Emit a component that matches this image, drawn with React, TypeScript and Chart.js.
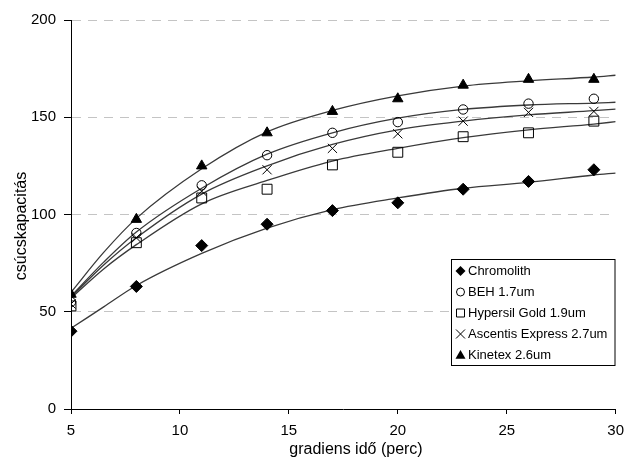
import React, { useEffect, useRef } from 'react';
import { Chart, registerables } from 'chart.js';

Chart.register(...registerables);

// ---- data ----
const xValues = [5, 8, 11, 14, 17, 20, 23, 26, 29];
const chromolith = [40, 63, 84, 95, 102, 106, 113, 117, 123];
const beh = [55, 90.5, 115, 130.5, 142, 147.5, 154, 157, 159.5];
const hypersil = [53, 85.5, 108.5, 113, 125.5, 132, 140, 142, 148];
const ascentis = [54, 88, 112, 123, 134, 141.5, 148, 152.5, 153];
const kinetex = [59, 97.5, 125, 142, 153, 159.5, 166.5, 169.5, 169.5];

// trend curves
const trendX = [5, 6.5, 8, 11, 14, 17, 20, 23, 26, 29, 30];
const chromolithTrend = [41.5, 52.5, 63.5, 80, 93, 102.5, 108.5, 113.5, 116.5, 120.3, 121.3];
const behTrend = [58, 75.5, 91, 113.5, 131, 142, 149.5, 154, 156.3, 157.3, 157.7];
const hypersilTrend = [57, 72, 84.5, 105.5, 117.5, 127.5, 134, 139.5, 143.5, 146.5, 147.7];
const ascentisTrend = [57.5, 74, 88, 110.5, 125, 136, 143.5, 148, 151.2, 153.4, 154.2];
const kinetexTrend = [60, 80.5, 98, 123.5, 142.5, 153.5, 161, 166, 168.7, 170.7, 171.6];

const seriesNames = ['Chromolith', 'BEH 1.7um', 'Hypersil Gold 1.9um', 'Ascentis Express 2.7um', 'Kinetex 2.6um'];
const xTitle = 'gradiens idő (perc)';
const yTitle = 'csúcskapacitás';
const xMin = 5, xMax = 30, xStep = 5;
const yMin = 0, yMax = 200, yStep = 50;

const FONT = "'Liberation Sans', Arial, sans-serif";

type Marker = 'diamond' | 'circle' | 'square' | 'cross' | 'triangle';
const markerKinds: Marker[] = ['diamond', 'circle', 'square', 'cross', 'triangle'];

function pts(xs: number[], ys: number[]) {
  return xs.map((x, i) => ({ x, y: ys[i] }));
}

function drawMarker(ctx: CanvasRenderingContext2D, kind: Marker, x: number, y: number) {
  ctx.save();
  ctx.strokeStyle = '#000';
  ctx.fillStyle = '#000';
  ctx.lineWidth = 1;
  ctx.beginPath();
  if (kind === 'diamond') {
    const r = 5;
    ctx.moveTo(x, y - r); ctx.lineTo(x + r, y); ctx.lineTo(x, y + r); ctx.lineTo(x - r, y); ctx.closePath();
    ctx.fill();
  } else if (kind === 'circle') {
    ctx.arc(x, y, 4, 0, Math.PI * 2);
    ctx.stroke();
  } else if (kind === 'square') {
    ctx.rect(x - 4, y - 4, 8, 8);
    ctx.stroke();
  } else if (kind === 'cross') {
    const r = 4.5;
    ctx.moveTo(x - r, y - r); ctx.lineTo(x + r, y + r);
    ctx.moveTo(x - r, y + r); ctx.lineTo(x + r, y - r);
    ctx.stroke();
  } else {
    const r = 5;
    ctx.moveTo(x, y - r); ctx.lineTo(x + r, y + r * 0.75); ctx.lineTo(x - r, y + r * 0.75); ctx.closePath();
    ctx.fill();
  }
  ctx.restore();
}

const overlayPlugin = {
  id: 'overlay',
  afterDraw(chart: any) {
    const ctx: CanvasRenderingContext2D = chart.ctx;
    ctx.save();
    // legend
    const bx = 451.5, by = 259.5, bw = 163.5, bh = 106;
    ctx.fillStyle = '#fff';
    ctx.fillRect(bx, by, bw, bh);
    ctx.strokeStyle = '#000';
    ctx.lineWidth = 1;
    ctx.strokeRect(bx, by, bw, bh);
    ctx.font = `13px ${FONT}`;
    ctx.textBaseline = 'middle';
    ctx.textAlign = 'left';
    seriesNames.forEach((name, i) => {
      const cy = by + 11.5 + i * 21;
      drawMarker(ctx, markerKinds[i], 460.5, cy);
      ctx.fillStyle = '#000';
      ctx.fillText(name, 468, cy + 0.5);
    });
    // axis titles
    ctx.fillStyle = '#000';
    ctx.font = `16px ${FONT}`;
    ctx.textAlign = 'center';
    ctx.textBaseline = 'middle';
    ctx.fillText(xTitle, 356, 450);
    ctx.translate(22, 226);
    ctx.rotate(-Math.PI / 2);
    ctx.fillText(yTitle, 0, 0);
    ctx.restore();
  },
};

export default function App() {
  const ref = useRef<HTMLCanvasElement | null>(null);
  useEffect(() => {
    if (!ref.current) return;
    const lineColor = '#3a3a3a';
    const trend = (data: number[]) => ({
      data: pts(trendX, data),
      showLine: true,
      borderColor: lineColor,
      borderWidth: 1.3,
      pointRadius: 0,
      cubicInterpolationMode: 'monotone' as const,
      order: 2,
    });
    const marks = (data: number[], style: string, radius: number, filled: boolean) => ({
      data: pts(xValues, data),
      showLine: false,
      pointStyle: style,
      pointRadius: radius,
      pointBorderWidth: 1,
      pointBorderColor: '#000',
      pointBackgroundColor: filled ? '#000' : 'rgba(0,0,0,0)',
      order: 1,
    });
    const chart = new Chart(ref.current, {
      type: 'scatter',
      data: {
        datasets: [
          trend(chromolithTrend) as any,
          trend(behTrend),
          trend(hypersilTrend),
          trend(ascentisTrend),
          trend(kinetexTrend),
          marks(chromolith, 'rectRot', 6, true),
          marks(beh, 'circle', 4.7, false),
          marks(hypersil, 'rect', 7, false),
          marks(ascentis, 'crossRot', 6.5, false),
          marks(kinetex, 'triangle', 6, true),
        ],
      },
      options: {
        animation: false,
        responsive: false,
        layout: { padding: { left: 0, right: 11, top: 20, bottom: 0 } },
        plugins: { legend: { display: false }, tooltip: { enabled: false } },
        scales: {
          x: {
            type: 'linear',
            min: xMin,
            max: xMax,
            ticks: { stepSize: xStep, color: '#000', font: { family: FONT, size: 15 }, padding: 8, maxRotation: 0 },
            grid: { drawOnChartArea: false, drawTicks: true, tickLength: 5, tickColor: '#000', lineWidth: 1 },
            border: { color: '#000', width: 1 },
            afterFit: (s: any) => { s.height = 50; },
          },
          y: {
            type: 'linear',
            min: yMin,
            max: yMax,
            ticks: { stepSize: yStep, color: '#000', font: { family: FONT, size: 15 }, padding: 8 },
            grid: { color: '#c4c4c4', lineWidth: 1, drawTicks: true, tickLength: 7, tickColor: '#000', tickBorderDash: [] },
            border: { color: '#000', width: 1, dash: [9, 7] },
            afterFit: (s: any) => { s.width = 71; },
          },
        },
      },
      plugins: [overlayPlugin],
    });
    return () => chart.destroy();
  }, []);
  return (
    <canvas
      ref={ref}
      width={632}
      height={459}
      style={{ position: 'fixed', left: 0, top: 0, display: 'block', background: '#fff' }}
    />
  );
}
